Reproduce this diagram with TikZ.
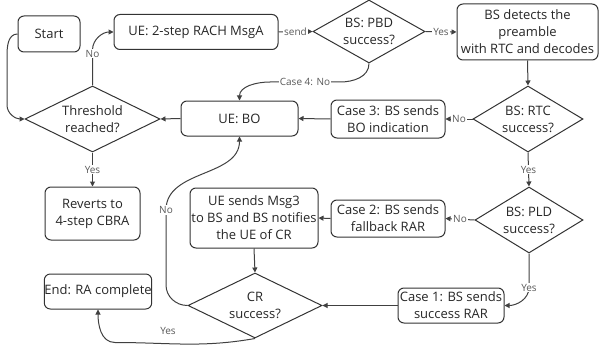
\documentclass[tikz,border=0pt]{standalone}
\usepackage{fontspec}
\setmainfont{Open Sans}
\usetikzlibrary{shapes.geometric,arrows.meta}
\begin{document}
\begin{tikzpicture}[x=1pt,y=-1pt,
  box/.style={draw=black!80,line width=1pt,rounded corners=6pt,align=center,font=\fontsize{13}{17}\selectfont,inner sep=0pt,text=black!85},
  dia/.style={draw=black!80,line width=1pt,diamond,aspect=2,align=center,inner sep=0pt,font=\fontsize{13}{17}\selectfont,text=black!85},
  arr/.style={draw=black!75,line width=1pt,-{Triangle[length=5pt,width=5pt]}},
  lab/.style={font=\fontsize{10}{11}\selectfont,text=black!65,fill=white,inner sep=1pt}]
\useasboundingbox (0,0) rectangle (600,345);
\node[box,minimum width=62,minimum height=36] (start) at (49,34) {Start};
\node[box,minimum width=164,minimum height=35] (msga) at (196,32) {UE: 2-step RACH MsgA};
\node[dia,minimum width=112,minimum height=63] (pbd) at (369,31.5) {BS: PBD\\success?};
\node[box,minimum width=141,minimum height=56] (det) at (527.5,32) {BS detects the\\preamble\\with RTC and decodes};
\node[dia,minimum width=110,minimum height=66] (rtc) at (528,119) {BS: RTC\\success?};
\node[box,minimum width=114,minimum height=38] (c3) at (388,119) {Case 3: BS sends\\BO indication};
\node[box,minimum width=117,minimum height=35] (bo) at (239.5,118.5) {UE: BO};
\node[dia,minimum width=135,minimum height=66] (thr) at (92.5,119) {Threshold\\reached?};
\node[box,minimum width=95,minimum height=53] (rev) at (92.5,213.5) {Reverts to\\4-step CBRA};
\node[dia,minimum width=108,minimum height=66] (pld) at (529,220) {BS: PLD\\success?};
\node[box,minimum width=114,minimum height=37] (c2) at (388,218.5) {Case 2: BS sends\\fallback RAR};
\node[box,minimum width=128,minimum height=60] (ue3) at (254,218) {UE sends Msg3\\to BS and BS notifies\\the UE of CR};
\node[dia,minimum width=134,minimum height=65] (cr) at (255,305.5) {CR\\success?};
\node[box,minimum width=106,minimum height=35] (c1) at (451,305.5) {Case 1: BS sends\\success RAR};
\node[box,minimum width=106,minimum height=35] (end) at (98,291.5) {End: RA complete};
\coordinate (nobend) at (166,210);
\coordinate (yesbend) at (115,342.5);
\coordinate (c4r) at (340,82);
\coordinate (c4l) at (270,82);

\draw[arr] (msga.east) -- node[lab]{send} (pbd.west);
\draw[arr] (pbd.east) -- node[lab]{Yes} (det.west);
\draw[arr] (det.south) -- (rtc.north);
\draw[arr] (rtc.west) -- node[lab]{No} (c3.east);
\draw[arr] (c3.west) -- (bo.east);
\draw[arr] (bo.west) -- (thr.east);
\draw[arr] (thr.north) -- node[lab,pos=0.9]{No} (thr.north |- msga.south) to[out=90,in=180] (msga.west);
\draw[arr] (start.west) to[out=180,in=90] (7,55) -- (7,105) to[out=-90,in=180] (thr.west);
\draw[arr] (thr.south) -- node[lab]{Yes} (rev.north);
\draw[arr] (pbd.south) to[out=-90,in=0] (c4r) -- node[lab]{Case 4: No} (c4l) to[out=180,in=90] (bo.north);
\draw[arr] (rtc.south) -- node[lab]{Yes} (pld.north);
\draw[arr] (pld.west) -- node[lab]{No} (c2.east);
\draw[arr] (c2.west) -- (ue3.east);
\draw[arr] (ue3.south) -- (cr.north);
\draw[arr] (c1.west) -- (cr.east);
\draw[arr] (pld.south) -- (pld.south |- c1.north) node[lab]{Yes} to[out=-90,in=0] (c1.east);
\draw[arr] (cr.south) to[out=190,in=0] (yesbend) to[out=180,in=-90] (end.south);
\node[lab] (yeslab) at (168,331) {Yes};
\draw[arr] (cr.west) to[out=180,in=-90] (166,285) -- (nobend) node[lab]{No} to[out=90,in=-90] (bo.south);
\end{tikzpicture}
\end{document}
